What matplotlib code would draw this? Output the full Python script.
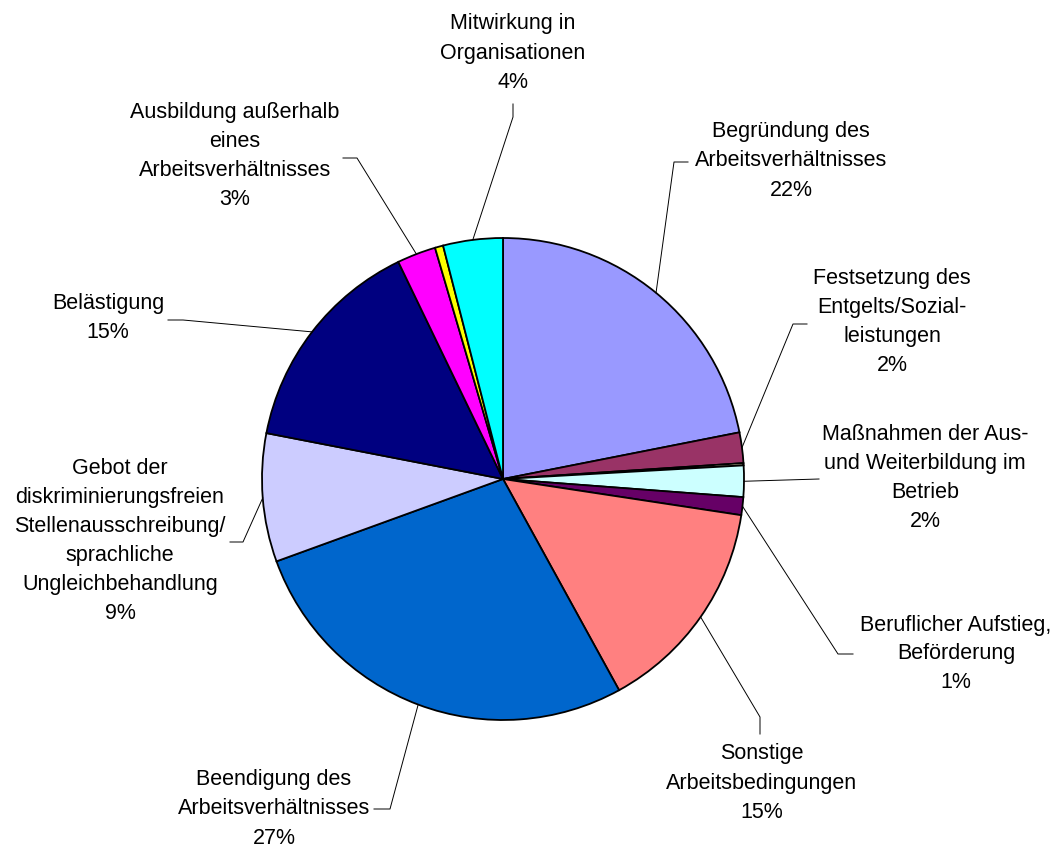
import numpy as np
import matplotlib.pyplot as plt

plt.rcParams['font.family'] = ['Liberation Sans', 'DejaVu Sans']

# Daten (Anteile in %, im Uhrzeigersinn ab 12 Uhr)
categories = [
    'Begründung des\nArbeitsverhältnisses',
    'Festsetzung des\nEntgelts/Sozial-\nleistungen',
    None,
    'Maßnahmen der Aus-\nund Weiterbildung im\nBetrieb',
    'Beruflicher Aufstieg,\nBeförderung',
    'Sonstige\nArbeitsbedingungen',
    'Beendigung des\nArbeitsverhältnisses',
    'Gebot der\ndiskriminierungsfreien\nStellenausschreibung/\nsprachliche\nUngleichbehandlung',
    'Belästigung',
    'Ausbildung außerhalb\neines\nArbeitsverhältnisses',
    None,
    'Mitwirkung in\nOrganisationen',
]
values = [21.9, 2.05, 0.15, 2.1, 1.2, 14.6, 27.45, 8.6, 14.8, 2.6, 0.55, 4.0]
colors = ['#9999FF', '#993366', '#FFFFCC', '#CCFFFF', '#660066', '#FF8080',
          '#0066CC', '#CCCCFF', '#000080', '#FF00FF', '#FFFF00', '#00FFFF']

# Layout in Pixeln (Ursprung oben links): Textmitte, Knick, Ende der Führungslinie
W, H = 1060, 848
label_pos = [(791, 161), (892, 322), None, (925, 478), (956, 654), (762, 783),
             (274, 809), (120, 541), (108, 318), (235, 156), None, (513, 53)]
leader_knee = [(674, 162), (793, 324), None, (819, 479), (838, 654), (760, 717),
               (390, 809), (243, 542), (183, 320), (357, 158), None, (513, 117)]
leader_end = [(688, 162), (807, 324), None, (819, 479), (853, 654), (760, 734),
              (374, 809), (230, 542), (168, 320), (343, 158), None, (513, 104)]

cx, cy, r = 503, H - 479, 241

fig = plt.figure(figsize=(W / 100, H / 100), dpi=100)
ax = fig.add_axes([0, 0, 1, 1])

wedges, _ = ax.pie(values, colors=colors, startangle=90, counterclock=False,
                   center=(cx, cy), radius=r,
                   wedgeprops=dict(edgecolor='black', linewidth=1.3))

total = sum(values)
for w, name, v, pos, knee, end in zip(wedges, categories, values,
                                      label_pos, leader_knee, leader_end):
    if name is None:
        continue
    mid = np.deg2rad((w.theta1 + w.theta2) / 2)
    ex, ey = cx + r * np.cos(mid), cy + r * np.sin(mid)
    ax.plot([ex, knee[0], end[0]], [ey, H - knee[1], H - end[1]],
            color='black', linewidth=0.7)
    ax.text(pos[0], H - pos[1], f'{name}\n{round(v / total * 100)}%',
            ha='center', va='center', fontsize=15.5, linespacing=1.5)

ax.set_xlim(0, W)
ax.set_ylim(0, H)
ax.set_aspect('equal')
ax.axis('off')

fig.savefig('out.png', dpi=100, facecolor='white')
